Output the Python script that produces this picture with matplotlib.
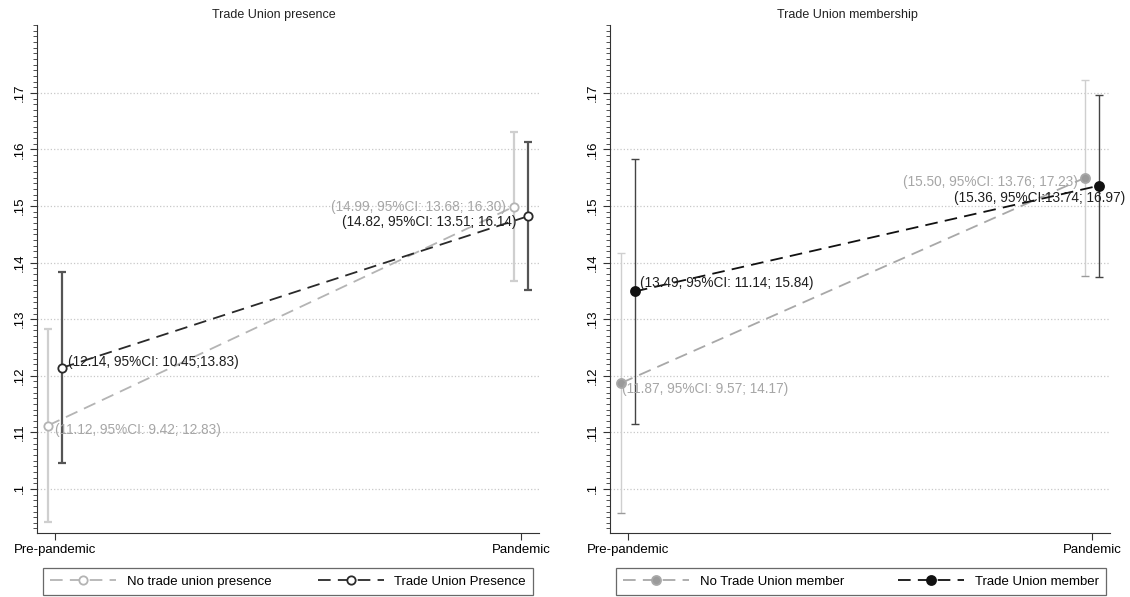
import numpy as np
import matplotlib
matplotlib.use('Agg')
import matplotlib.pyplot as plt
from matplotlib.ticker import MultipleLocator, FixedLocator

plt.rcParams['font.family'] = ['Liberation Sans', 'DejaVu Sans']

# data (predicted shares with 95% CI)
periods = ['Pre-pandemic', 'Pandemic']
titles = ['Trade Union presence', 'Trade Union membership']

presence_no = [0.1112, 0.1499]
presence_no_lo = [0.0942, 0.1368]
presence_no_hi = [0.1283, 0.1630]
presence_yes = [0.1214, 0.1482]
presence_yes_lo = [0.1045, 0.1351]
presence_yes_hi = [0.1383, 0.1614]

member_no = [0.1187, 0.1550]
member_no_lo = [0.0957, 0.1376]
member_no_hi = [0.1417, 0.1723]
member_yes = [0.1349, 0.1536]
member_yes_lo = [0.1114, 0.1374]
member_yes_hi = [0.1584, 0.1697]

labels_left = ['No trade union presence', 'Trade Union Presence']
labels_right = ['No Trade Union member', 'Trade Union member']

ann_presence_no = ['(11.12, 95%CI: 9.42; 12.83)', '(14.99, 95%CI: 13.68; 16.30)']
ann_presence_yes = ['(12.14, 95%CI: 10.45;13.83)', '(14.82, 95%CI: 13.51; 16.14)']
ann_member_no = ['(11.87, 95%CI: 9.57; 14.17)', '(15.50, 95%CI: 13.76; 17.23)']
ann_member_yes = ['(13.49, 95%CI: 11.14; 15.84)', '(15.36, 95%CI:13.74; 16.97)']

light = '#b4b4b4'
light_bar = '#cfcfcf'
dark = '#2a2a2a'
dark_bar = '#555555'
light_txt = '#a6a6a6'
dark_txt = '#1e1e1e'

fig = plt.figure(figsize=(11.3, 5.97), dpi=100)
ax1 = fig.add_axes([37 / 1130, 64 / 597, 502 / 1130, 508 / 597])
ax2 = fig.add_axes([610 / 1130, 64 / 597, 500 / 1130, 508 / 597])

x = np.arange(2)
off = 0.015


def draw_series(ax, xs, y, lo, hi, col, barcol, lw, mfc, ms, label):
    y = np.array(y)
    err = [y - np.array(lo), np.array(hi) - y]
    ax.errorbar(xs, y, yerr=err, fmt='none', ecolor=barcol, elinewidth=lw,
                capsize=3, capthick=lw, zorder=2)
    ax.plot(xs, y, color=col, linestyle=(0, (7, 4)), lw=1.3, marker='o',
            markersize=ms, markerfacecolor=mfc, markeredgecolor=col,
            markeredgewidth=1.3, label=label, zorder=3)


def style_axes(ax):
    ax.set_xlim(-0.0386, 1.0386)
    ax.set_ylim(0.0922, 0.182)
    ax.spines['top'].set_visible(False)
    ax.spines['right'].set_visible(False)
    ax.spines['left'].set_color('#333333')
    ax.spines['bottom'].set_color('#333333')
    ax.set_xticks(x)
    ax.set_xticklabels(periods, fontsize=9.5)
    yt = [0.10, 0.11, 0.12, 0.13, 0.14, 0.15, 0.16, 0.17]
    ax.yaxis.set_major_locator(FixedLocator(yt))
    ax.set_yticklabels(['.1', '.11', '.12', '.13', '.14', '.15', '.16', '.17'],
                       rotation=90, va='center', fontsize=9.5)
    ax.yaxis.set_minor_locator(MultipleLocator(0.001))
    ax.tick_params(axis='y', which='major', length=5, color='#333333', pad=3)
    ax.tick_params(axis='y', which='minor', length=3, color='#333333')
    ax.tick_params(axis='x', length=5, color='#333333', pad=3)
    ax.grid(axis='y', which='major', linestyle=':', color='#c8c8c8', lw=0.9)
    ax.set_axisbelow(True)


def annotate(ax, xs, ys, texts, offsets, has, col):
    for xi, yi, t, o, ha in zip(xs, ys, texts, offsets, has):
        ax.annotate(t, (xi, yi), xytext=o, textcoords='offset points',
                    ha=ha, va='center', fontsize=9.8, color=col, zorder=4)


# left panel: trade union presence
draw_series(ax1, x - off, presence_no, presence_no_lo, presence_no_hi,
            light, light_bar, 1.6, 'white', 6, labels_left[0])
draw_series(ax1, x + off, presence_yes, presence_yes_lo, presence_yes_hi,
            dark, dark_bar, 1.6, 'white', 6, labels_left[1])
style_axes(ax1)
annotate(ax1, x - off, presence_no, ann_presence_no,
         [(5, -3), (-6, 0)], ['left', 'right'], light_txt)
annotate(ax1, x + off, presence_yes, ann_presence_yes,
         [(4, 4), (-8, -4)], ['left', 'right'], dark_txt)

# right panel: trade union membership
draw_series(ax2, x - off, member_no, member_no_lo, member_no_hi,
            '#a8a8a8', light_bar, 1.0, '#9a9a9a', 6.5, labels_right[0])
draw_series(ax2, x + off, member_yes, member_yes_lo, member_yes_hi,
            '#111111', '#444444', 1.0, '#111111', 6.5, labels_right[1])
ax2.lines[0].set_markeredgecolor('#9a9a9a')
style_axes(ax2)
annotate(ax2, x - off, member_no, ann_member_no,
         [(1, -4), (-5, -3)], ['left', 'right'], light_txt)
annotate(ax2, x + off, member_yes, ann_member_yes,
         [(4, 6), (19, -9)], ['left', 'right'], dark_txt)

fig.text(274 / 1130, 1 - 15 / 597, titles[0], ha='center', va='center', fontsize=9, color='#222222')
fig.text(847 / 1130, 1 - 15 / 597, titles[1], ha='center', va='center', fontsize=9, color='#222222')

for ax, box in [(ax1, (43, 533)), (ax2, (616, 1106))]:
    h, l = ax.get_legend_handles_labels()
    leg = fig.legend(h, l, loc='lower left', ncol=2, mode='expand',
                     bbox_to_anchor=(box[0] / 1130, 2 / 597, (box[1] - box[0]) / 1130, 30 / 597),
                     fontsize=9.5, frameon=True, fancybox=False, edgecolor='#444444',
                     handlelength=5, borderaxespad=0, borderpad=0.55, numpoints=1)
    leg.get_frame().set_linewidth(0.9)

fig.savefig('out.png', dpi=100, facecolor='white')
